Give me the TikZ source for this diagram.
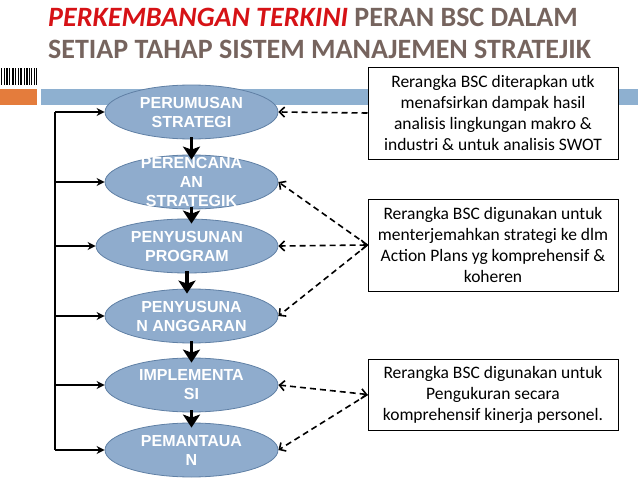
\documentclass[tikz,border=0pt]{standalone}
\usepackage{fontspec}
\setmainfont{Carlito}
\newfontfamily\arialfont{Liberation Sans}
\usetikzlibrary{arrows.meta,positioning,shapes.geometric}

\definecolor{judulmerah}{RGB}{214,18,22}
\definecolor{judulabu}{RGB}{118,100,94}
\definecolor{pitabiru}{RGB}{142,176,208}
\definecolor{pitaoranye}{RGB}{228,124,60}
\definecolor{elipsbiru}{RGB}{143,172,205}
\definecolor{elipsgaris}{RGB}{96,128,165}

\tikzset{
  tahap/.style={ellipse, draw=elipsgaris, fill=elipsbiru, line width=0.8pt,
    minimum width=173pt, minimum height=54pt, inner sep=0pt},
  tahapteks/.style={text=white, font=\arialfont\bfseries\fontsize{16}{19}\selectfont, align=center},
  catatan/.style={draw=black, fill=white, line width=1pt, minimum width=250pt,
    align=center, font=\fontsize{17.5}{21}\selectfont, inner sep=2pt},
  alur/.style={line width=3.5pt, -{Stealth[length=13pt,width=17pt,inset=3pt]}},
  balik/.style={line width=2pt, -{Stealth[length=8pt,width=8pt]}},
  acuan/.style={dashed, dash pattern=on 6pt off 4pt, line width=1.6pt, -{Straight Barb[length=5pt,width=10pt]}},
}

\begin{document}
\begin{tikzpicture}[x=1pt,y=-1pt]
\useasboundingbox (0,0) rectangle (638,479);

% judul
\node[anchor=base west, inner sep=0pt, font=\bfseries\fontsize{28}{33}\selectfont] (judul1) at (48,27)
  {\textcolor{judulmerah}{\itshape PERKEMBANGAN TERKINI} \textcolor{judulabu}{PERAN BSC DALAM}};
\node[anchor=base west, inner sep=0pt, font=\bfseries\fontsize{28}{33}\selectfont, text=judulabu] (judul2) at (48,58)
  {SETIAP TAHAP SISTEM MANAJEMEN STRATEJIK};

% hiasan kiri atas
\foreach \x/\w in {1/1.2,3.5/1.2,6/1.6,9/1.2,11.5/2,15/1.2,17.5/1.2,20/2.4,23.5/1.2,26/1.6,29/1.2,31/1.2,33.5/1.6,36/1.2}
  \fill[black] (\x,68) rectangle ++(\w,17);
\fill[pitaoranye] (0,89) rectangle (37,105);
\fill[pitabiru] (41,89) rectangle (638,105);

% tahap-tahap
\node[tahap] (e1) at (191.5,112) {};
\node[tahap] (e2) at (191.5,182) {};
\node[tahap, minimum width=182pt] (e3) at (187,246) {};
\node[tahap] (e4) at (191.5,316) {};
\node[tahap] (e5) at (191.5,385) {};
\node[tahap] (e6) at (191.5,450) {};
\node[tahapteks] (t1) at (e1) {PERUMUSAN\\STRATEGI};
\node[tahapteks] (t2) at (e2) {PERENCANA\\AN\\STRATEGIK};
\node[tahapteks] (t3) at (e3) {PENYUSUNAN\\PROGRAM};
\node[tahapteks] (t4) at (e4) {PENYUSUNA\\N ANGGARAN};
\node[tahapteks] (t5) at (e5) {IMPLEMENTA\\SI};
\node[tahapteks] (t6) at (e6) {PEMANTAUA\\N};

\foreach \i/\j in {1/2,2/3,3/4,4/5,5/6}
  \draw[alur] ([yshift=2pt]e\i.south) -- ([yshift=-5pt]e\i.south |- e\j.north);

% umpan balik kiri
\foreach \i in {1,...,6}
  \coordinate (k\i) at (55,0 |- e\i);
\draw[line width=2pt] (k1) -- (k6);
\foreach \i in {1,...,6}
  \draw[balik] (k\i) -- (e\i.west);

% catatan kanan
\node[catatan, minimum height=92pt] (b1) at (493,113)
  {Rerangka BSC diterapkan utk\\menafsirkan dampak hasil\\analisis lingkungan makro \&\\industri \& untuk analisis SWOT};
\node[catatan, minimum height=92pt] (b2) at (493,245)
  {Rerangka BSC digunakan untuk\\menterjemahkan strategi ke dlm\\Action Plans yg komprehensif \&\\koheren};
\node[catatan, minimum height=71pt] (b3) at (493,394.5)
  {Rerangka BSC digunakan untuk\\Pengukuran secara\\komprehensif kinerja personel.};

\draw[acuan] (b1.west) -- (e1.east);
\draw[acuan] (b2.west) -- (e2.east);
\draw[acuan, {Straight Barb[length=5pt,width=10pt]}-{Straight Barb[length=5pt,width=10pt]}] (b2.west) -- (e3.east);
\draw[acuan] (b2.west) -- (e4.east);
\draw[acuan, {Straight Barb[length=5pt,width=10pt]}-{Straight Barb[length=5pt,width=10pt]}] (b3.west) -- (e5.east);
\draw[acuan] (b3.west) -- (e6.east);

\end{tikzpicture}
\end{document}
